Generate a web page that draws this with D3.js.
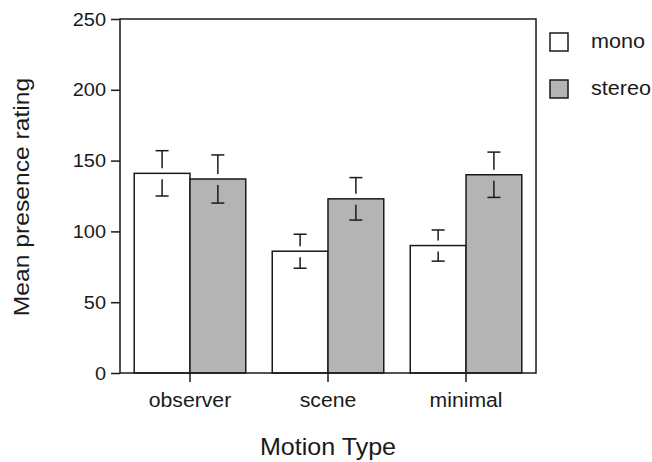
<!DOCTYPE html>
<html>
<head>
<meta charset="utf-8">
<script src="https://cdn.jsdelivr.net/npm/d3@7"></script>
<style>
  body { margin: 0; background: #fff; }
  text { font-family: "Liberation Sans", Arial, Helvetica, sans-serif; fill: #1a1a1a; }
</style>
</head>
<body>
<div id="chart"></div>
<script>
// values
var categories = ["observer", "scene", "minimal"];
var seriesNames = ["mono", "stereo"];
var monoMeans = [141, 86, 90];
var stereoMeans = [137, 123, 140];
var monoErr = [16, 12, 11];
var stereoErr = [17, 15, 16];
var yTicks = [0, 50, 100, 150, 200, 250];

var width = 652;
var height = 462;
var margin = { left: 120, right: 116, top: 19, bottom: 89 };

var fills = { mono: "#ffffff", stereo: "#b4b4b4" };
var ink = "#1a1a1a";

// the original lettering is a little wider than Arial, so stretch it a bit
function stretch(sel, k) {
    sel.each(function() {
        var w = this.getComputedTextLength();
        d3.select(this)
            .attr("textLength", w * k)
            .attr("lengthAdjust", "spacingAndGlyphs");
    });
}

var svg = d3.select("#chart").append("svg")
    .attr("width", width)
    .attr("height", height);

var x0 = d3.scaleBand()
    .domain(categories)
    .range([margin.left, width - margin.right])
    .paddingInner(0.192)
    .paddingOuter(0.103);

var x1 = d3.scaleBand()
    .domain(seriesNames)
    .range([0, x0.bandwidth()]);

var y = d3.scaleLinear()
    .domain([0, 250])
    .range([height - margin.bottom, margin.top]);

// rows for bars + error bars
var rows = [];
categories.forEach(function(c, i) {
    rows.push({ cat: c, s: "mono", v: monoMeans[i], e: monoErr[i] });
    rows.push({ cat: c, s: "stereo", v: stereoMeans[i], e: stereoErr[i] });
});

// bars
svg.append("g").selectAll("rect")
    .data(rows)
    .enter().append("rect")
    .attr("x", function(d) { return x0(d.cat) + x1(d.s); })
    .attr("y", function(d) { return y(d.v); })
    .attr("width", x1.bandwidth())
    .attr("height", function(d) { return y(0) - y(d.v); })
    .attr("fill", function(d) { return fills[d.s]; })
    .attr("stroke", ink)
    .attr("stroke-width", 1.5);

// error bars, drawn as a T above and an upside-down T below the bar top
var capW = 13;
var err = svg.append("g")
    .attr("stroke", ink)
    .attr("stroke-width", 1.5)
    .selectAll("g")
    .data(rows)
    .enter().append("g")
    .attr("transform", function(d) {
        return "translate(" + (x0(d.cat) + x1(d.s) + x1.bandwidth() / 2) + ",0)";
    });

err.append("line")
    .attr("x1", 0).attr("x2", 0)
    .attr("y1", function(d) { return y(d.v + d.e); })
    .attr("y2", function(d) { return y(d.v) - 5; });
err.append("line")
    .attr("x1", -capW / 2).attr("x2", capW / 2)
    .attr("y1", function(d) { return y(d.v + d.e); })
    .attr("y2", function(d) { return y(d.v + d.e); });
err.append("line")
    .attr("x1", 0).attr("x2", 0)
    .attr("y1", function(d) { return y(d.v) + 6; })
    .attr("y2", function(d) { return y(d.v - d.e); });
err.append("line")
    .attr("x1", -capW / 2).attr("x2", capW / 2)
    .attr("y1", function(d) { return y(d.v - d.e); })
    .attr("y2", function(d) { return y(d.v - d.e); });

// y axis
var yAxis = svg.append("g")
    .attr("transform", "translate(" + margin.left + ",0)")
    .call(d3.axisLeft(y).tickValues(yTicks).tickSize(9).tickPadding(5).tickSizeOuter(0));
yAxis.select(".domain").remove();
yAxis.selectAll("line").attr("stroke", ink).attr("stroke-width", 1.5);
yAxis.selectAll("text").attr("font-size", 19).attr("fill", ink).call(stretch, 1.05);

// x axis
var xAxis = svg.append("g")
    .attr("transform", "translate(0," + y(0) + ")")
    .call(d3.axisBottom(x0).tickSize(9).tickPadding(10.5).tickSizeOuter(0));
xAxis.select(".domain").remove();
xAxis.selectAll("line").attr("stroke", ink).attr("stroke-width", 1.5);
xAxis.selectAll("text").attr("font-size", 20).attr("fill", ink).call(stretch, 1.06);

// plot frame
svg.append("rect")
    .attr("x", margin.left)
    .attr("y", margin.top)
    .attr("width", width - margin.left - margin.right)
    .attr("height", height - margin.top - margin.bottom)
    .attr("fill", "none")
    .attr("stroke", ink)
    .attr("stroke-width", 1.5);

// axis titles
svg.append("text")
    .attr("x", (margin.left + width - margin.right) / 2)
    .attr("y", 455)
    .attr("text-anchor", "middle")
    .attr("font-size", 24)
    .text("Motion Type")
    .call(stretch, 1.045);

svg.append("text")
    .attr("transform", "translate(29,197) rotate(-90)")
    .attr("text-anchor", "middle")
    .attr("font-size", 22)
    .text("Mean presence rating")
    .call(stretch, 1.12);

// legend
var legend = svg.append("g").selectAll("g")
    .data(seriesNames)
    .enter().append("g")
    .attr("transform", function(d, i) { return "translate(550," + (33 + i * 47) + ")"; });

legend.append("rect")
    .attr("width", 18)
    .attr("height", 18)
    .attr("fill", function(d) { return fills[d]; })
    .attr("stroke", ink)
    .attr("stroke-width", 1.5);

legend.append("text")
    .attr("x", 41)
    .attr("y", 15)
    .attr("font-size", 20)
    .text(function(d) { return d; })
    .call(stretch, 1.08);
</script>
</body>
</html>
